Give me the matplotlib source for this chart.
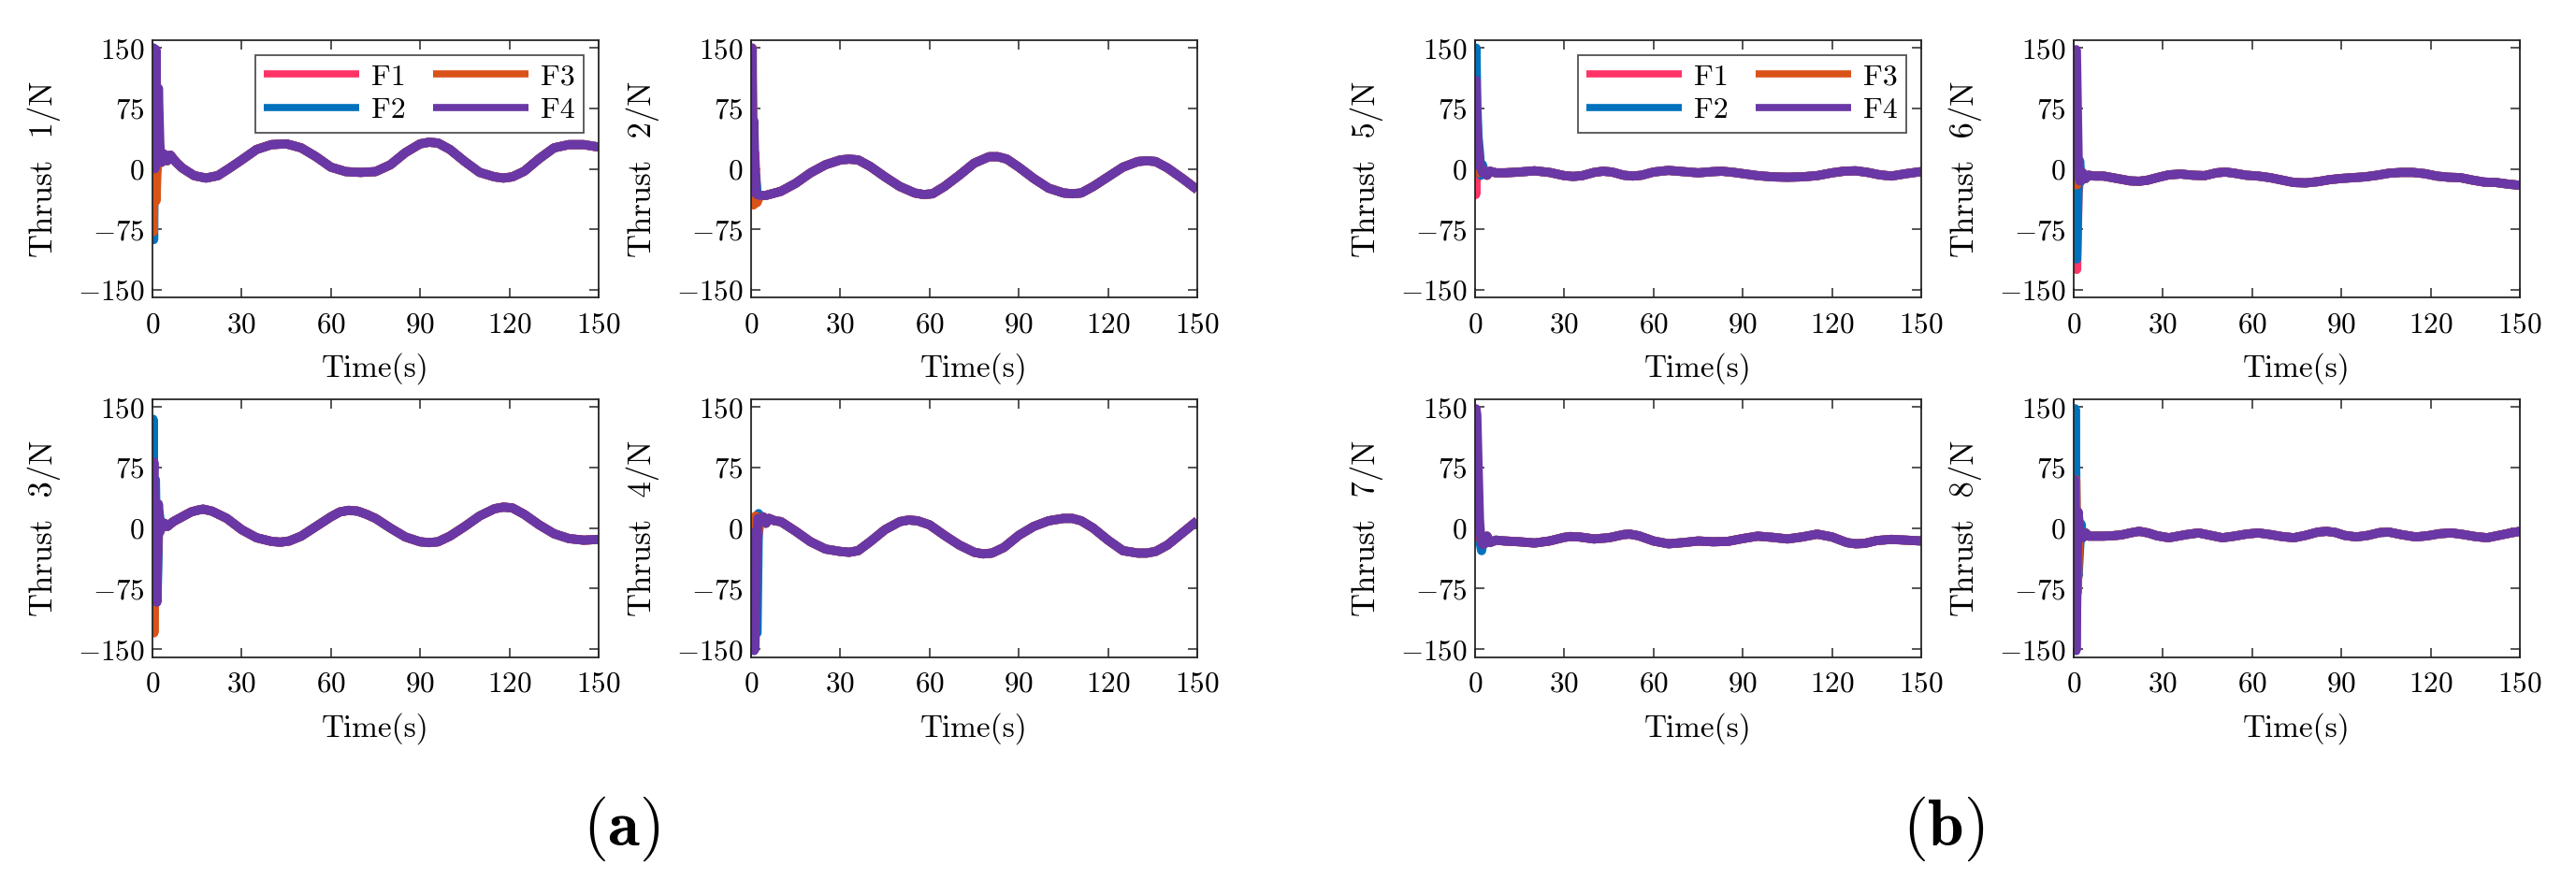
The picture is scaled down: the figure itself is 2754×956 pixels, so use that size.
import matplotlib as mpl
mpl.use('Agg')
import matplotlib.pyplot as plt

plt.rcParams['font.family'] = 'serif'
plt.rcParams['font.serif'] = ['cmr10']
plt.rcParams['mathtext.fontset'] = 'cm'
plt.rcParams['axes.formatter.use_mathtext'] = True
plt.rcParams['axes.unicode_minus'] = True

#series colours (F1..F4) and names
names = ['F1', 'F2', 'F3', 'F4']
colors = ['#FF3366', '#0072BD', '#D95319', '#6A37A6']

#steady part (all four thrusters overlap here) for each panel
time_1 = [3, 4, 5, 6, 8, 10, 14, 18, 22, 26, 30, 35, 40, 45, 50, 55, 60, 65, 70, 75, 80, 85, 90, 93, 96,
          100, 105, 110, 115, 118, 121, 125, 130, 135, 140, 145, 150]
thrust_1 = [8, 18, 10, 17, 8, 1, -8.5, -11.5, -8.5, 1, 11, 24, 30, 31, 26, 15, 2, -3.5, -4.5, -3.5, 5, 20, 31, 33, 32,
            24, 9, -4.5, -10, -11.5, -10, -3, 12.5, 26, 30, 30, 27]

time_2 = [3, 5, 10, 15, 20, 25, 30, 33, 36, 40, 45, 50, 55, 58, 61, 65, 70, 75, 80, 83, 86, 90, 95, 100, 105,
          108, 111, 115, 120, 125, 130, 133, 136, 140, 145, 150]
thrust_2 = [-33, -33, -28, -18, -5, 5, 11, 12, 11, 3, -10, -22, -30, -32, -31, -22, -8, 7, 15, 15, 12, 2, -12, -24, -30,
            -31, -30, -22, -10, 2, 9, 10, 9, 1, -12, -26]

time_3 = [3, 4, 5, 7, 10, 13, 15, 17, 20, 25, 30, 35, 40, 43, 46, 50, 55, 60, 63, 66, 69, 72, 75, 80, 85, 90, 93, 96,
          100, 105, 110, 115, 118, 121, 125, 130, 135, 140, 145, 150]
thrust_3 = [0, 6, 2, 8, 14, 20, 22, 23.5, 21, 12, -2, -12, -16.5, -17.5, -16, -10, 2, 14, 20, 22, 21, 17, 12, 0, -11,
            -17, -18, -17, -10, 2, 15, 24, 26, 25, 17, 4, -7, -13, -15, -14]

time_4 = [3, 4, 5, 6, 8, 10, 15, 20, 25, 30, 33, 36, 40, 45, 50, 53, 56, 60, 65, 70, 75, 78, 81, 85, 90, 95, 100,
          105, 108, 111, 115, 120, 125, 130, 133, 136, 140, 145, 150]
thrust_4 = [8, 14, 6, 12, 9, 8, -4, -17, -26, -29, -30, -28, -17, -2, 8, 10, 9, 4, -9, -21, -30, -32, -31, -24, -9, 2,
            9, 12, 12, 9, 0, -15, -28, -31, -31, -29, -21, -6, 9]

time_5 = [3, 4, 5, 7, 10, 15, 20, 25, 30, 33, 36, 40, 43, 46, 50, 53, 56, 60, 65, 70, 75, 80, 83, 87, 91, 95, 100,
          105, 110, 115, 120, 124, 128, 132, 136, 140, 145, 150]
thrust_5 = [-2, -8, -3, -5, -5, -4, -2.5, -4.5, -8.5, -9.5, -8.5, -4.5, -3, -4, -8, -9, -8, -4, -2, -3.5, -5, -3.5, -3,
            -4.5, -6.5, -8.5, -10, -10.5, -10, -8.5, -5, -3, -2.5, -4.5, -7.5, -9, -6, -3.5]

time_6 = [3, 4, 5, 7, 10, 13, 16, 19, 22, 25, 28, 32, 36, 40, 44, 48, 51, 54, 58, 62, 66, 70, 74, 78, 82, 86, 90,
          94, 98, 102, 106, 110, 114, 118, 122, 126, 130, 134, 138, 142, 146, 150]
thrust_6 = [-5, -12, -8, -9, -9, -11, -13, -15, -15.5, -14, -11, -7.5, -6.5, -8, -8.5, -5, -4, -5.5, -8, -9, -11, -14,
            -17, -17.5, -16, -13.5, -12, -11, -10, -8, -5.5, -4.5, -4.5, -6, -9, -10.5, -11, -14, -16.5, -17, -19, -20.5]

time_7 = [3, 4, 5, 7, 10, 15, 20, 25, 30, 32, 35, 40, 45, 50, 52, 55, 60, 65, 70, 75, 80, 85, 90, 95, 100, 105, 110,
          115, 120, 125, 128, 131, 135, 140, 145, 150]
thrust_7 = [-20, -10, -18, -15, -16, -17, -18.5, -16, -11.5, -10.5, -11, -13.5, -12, -8, -7.5, -9.5, -16, -19.5, -18,
            -16, -17, -16.5, -13, -10, -11.5, -13.5, -11, -7.5, -11, -18, -19.5, -19, -15.5, -14, -15, -16]

time_8 = [3, 4, 5, 7, 10, 13, 16, 19, 22, 25, 28, 32, 35, 38, 42, 46, 50, 54, 58, 62, 66, 70, 74, 78, 82, 85, 88, 91,
          95, 99, 103, 106, 110, 115, 119, 123, 127, 131, 135, 139, 143, 147, 150]
thrust_8 = [-12, -6, -10, -10, -10, -9.5, -8.5, -6, -4, -6, -9.5, -12, -10, -8, -6, -9, -12, -10, -7.5, -6, -8, -10.5,
            -12, -9, -5, -4, -5.5, -9, -11, -9, -5.5, -5, -8, -11, -9.5, -7, -6, -8, -10.5, -12, -9, -6, -4]

#start-up transients, one (time, value) pair of lists per thruster F1..F4
spike_1 = [([0, 0.3, 0.6, 1.0, 1.5, 2.0, 2.5], [0, 40, -30, 60, 10, 25, 15]),
           ([0, 0.2, 0.4, 0.8, 1.2, 1.8, 2.5], [0, 150, -88, 120, -20, 30, 8]),
           ([0, 0.3, 0.7, 1.2, 2.0, 2.5], [0, -78, 40, -40, 50, 20]),
           ([0, 0.4, 0.8, 1.2, 1.6, 2.0, 2.5], [0, 150, 0, 148, 10, 100, 30])]
spike_2 = [([0, 0.3, 0.7, 1.2, 2.0], [0, 120, -38, 20, -35]),
           ([0, 0.3, 0.6, 1.0, 2.0], [0, 140, -30, 10, -30]),
           ([0, 0.4, 0.8, 1.5, 2.0], [0, 150, -45, -40, -42]),
           ([0, 0.3, 0.6, 0.9, 1.5, 2.0], [0, 150, -20, 60, -30, -32])]
spike_3 = [([0, 0.3, 0.6, 1.0, 1.5, 2.0], [0, -60, 40, -20, -60, 10]),
           ([0, 0.2, 0.5, 1.0, 1.6, 2.2], [0, 135, -40, 60, -80, 20]),
           ([0, 0.2, 0.5, 1.0, 1.5, 2.0], [0, -20, -130, 20, -50, 5]),
           ([0, 0.5, 0.9, 1.5, 2.0, 2.5], [0, 82, -40, -92, 30, -5])]
spike_4 = [([0, 0.3, 0.8, 1.3, 2.0], [0, -120, -60, -140, -20]),
           ([0, 0.5, 1.0, 1.5, 2.0, 2.5], [0, -100, -40, -120, -130, 18]),
           ([0, 0.3, 0.7, 1.0, 1.5, 2.0], [0, -150, 10, -148, 15, -10]),
           ([0, 0.5, 1.0, 1.3, 1.8, 2.3], [0, -60, -152, -150, -40, 12])]
spike_5 = [([0, 0.2, 0.5, 1.0, 1.5, 2.0], [0, -32, 30, -10, 5, -5]),
           ([0, 0.3, 0.6, 1.0, 1.5, 2.0, 2.5], [0, 150, 80, 40, 20, -8, 5]),
           ([0, 0.3, 0.8, 1.5, 2.0], [0, 60, 20, -5, 0]),
           ([0, 0.3, 0.6, 1.0, 1.5, 2.0, 2.5], [0, 110, 60, 30, 10, 0, -5])]
spike_6 = [([0, 0.3, 0.7, 1.0, 1.5, 2.0, 2.5], [0, 40, -60, -125, -30, -10, -15]),
           ([0, 0.2, 0.5, 1.0, 1.5, 2.0, 2.5], [0, 50, -80, -112, -20, 10, -15]),
           ([0, 0.2, 0.5, 1.0, 1.5, 2.0], [0, 140, 60, -20, -10, -12]),
           ([0, 0.4, 0.8, 1.0, 1.3, 1.6, 2.0, 2.5], [0, 100, 148, 130, 60, -5, -15, -8])]
spike_7 = [([0, 0.2, 0.5, 1.0, 1.5, 2.0, 2.5], [0, 50, 80, 30, -10, -15, -18]),
           ([0, 0.3, 0.8, 1.2, 1.8, 2.2, 2.8], [0, 100, 40, 10, -20, -28, -12]),
           ([0, 0.2, 0.5, 1.0, 1.5, 2.0], [0, 80, 60, 10, -10, -15]),
           ([0, 0.3, 0.6, 1.0, 1.5, 2.0, 2.5], [0, 148, 140, 80, 10, -15, -20])]
spike_8 = [([0, 0.3, 0.6, 1.0, 1.5, 2.0, 2.5], [0, 80, -60, -100, 20, -5, -10]),
           ([0, 0.3, 0.5, 1.0, 1.5, 2.0, 2.5], [0, 60, 148, -50, -60, -25, 5]),
           ([0, 0.3, 0.7, 1.2, 1.8, 2.5], [0, -50, 60, -80, -10, -8]),
           ([0, 0.4, 0.8, 1.1, 1.5, 2.0, 2.5], [0, 60, -152, -60, 20, -5, -12])]

panels = [(time_1, thrust_1, spike_1), (time_2, thrust_2, spike_2), (time_3, thrust_3, spike_3),
          (time_4, thrust_4, spike_4), (time_5, thrust_5, spike_5), (time_6, thrust_6, spike_6),
          (time_7, thrust_7, spike_7), (time_8, thrust_8, spike_8)]

yticks = [-150, -75, 0, 75, 150]
xticks = [0, 30, 60, 90, 120, 150]

W, H = 2754.0, 956.0
fig = plt.figure(figsize=(W / 100, H / 100), dpi=100)

#axes boxes in pixels: left edges for the four columns, top/bottom for rows
lefts = [163, 803, 1577, 2217]
axw = 477
rows = [(42.7, 318.3), (426.7, 702.7)]
#panel k -> (row, column)
grid = {1: (0, 0), 2: (0, 1), 3: (1, 0), 4: (1, 1), 5: (0, 2), 6: (0, 3), 7: (1, 2), 8: (1, 3)}

for k in range(1, 9):
    r, c = grid[k]
    top, bot = rows[r]
    ax = fig.add_axes([lefts[c] / W, 1 - bot / H, axw / W, (bot - top) / H])
    ts, vs, spikes = panels[k - 1]
    for i in range(4):
        st, sv = spikes[i]
        ax.plot(st + ts, sv + vs, color=colors[i], lw=7, label=names[i],
                solid_joinstyle='round', solid_capstyle='butt')
    ax.set_xlim(0, 150)
    ax.set_ylim(-160, 160)
    ax.set_xticks(xticks)
    ax.set_yticks(yticks)
    ax.tick_params(direction='in', top=True, right=True, length=7, width=1.1,
                   labelsize=22.5, color='#262626')
    ax.tick_params(axis='x', pad=11)
    ax.tick_params(axis='y', pad=6)
    for s in ax.spines.values():
        s.set_linewidth(1.3)
        s.set_color('#262626')
    ax.set_ylabel('Thrust  %d/N' % k, fontsize=25)
    ax.yaxis.set_label_coords(-0.205, 0.5)
    ax.set_xlabel('Time(s)', fontsize=24)
    ax.xaxis.set_label_coords(0.5, -0.215)
    if k in (1, 5):
        leg = ax.legend(ncol=2, loc='upper right', fontsize=23, frameon=True, fancybox=False,
                        edgecolor='#262626', handlelength=3.2, handletextpad=0.4,
                        columnspacing=0.9, labelspacing=0.22, borderaxespad=0.5, borderpad=0.3)
        leg.get_frame().set_linewidth(1.3)
        for h in leg.get_lines():
            h.set_linewidth(5.5)

fig.text(664 / W, 1 - 886 / H, r'$(\mathbf{a})$', fontsize=50, ha='center', va='center')
fig.text(2078 / W, 1 - 886 / H, r'$(\mathbf{b})$', fontsize=50, ha='center', va='center')

fig.savefig('out.png', dpi=100)
